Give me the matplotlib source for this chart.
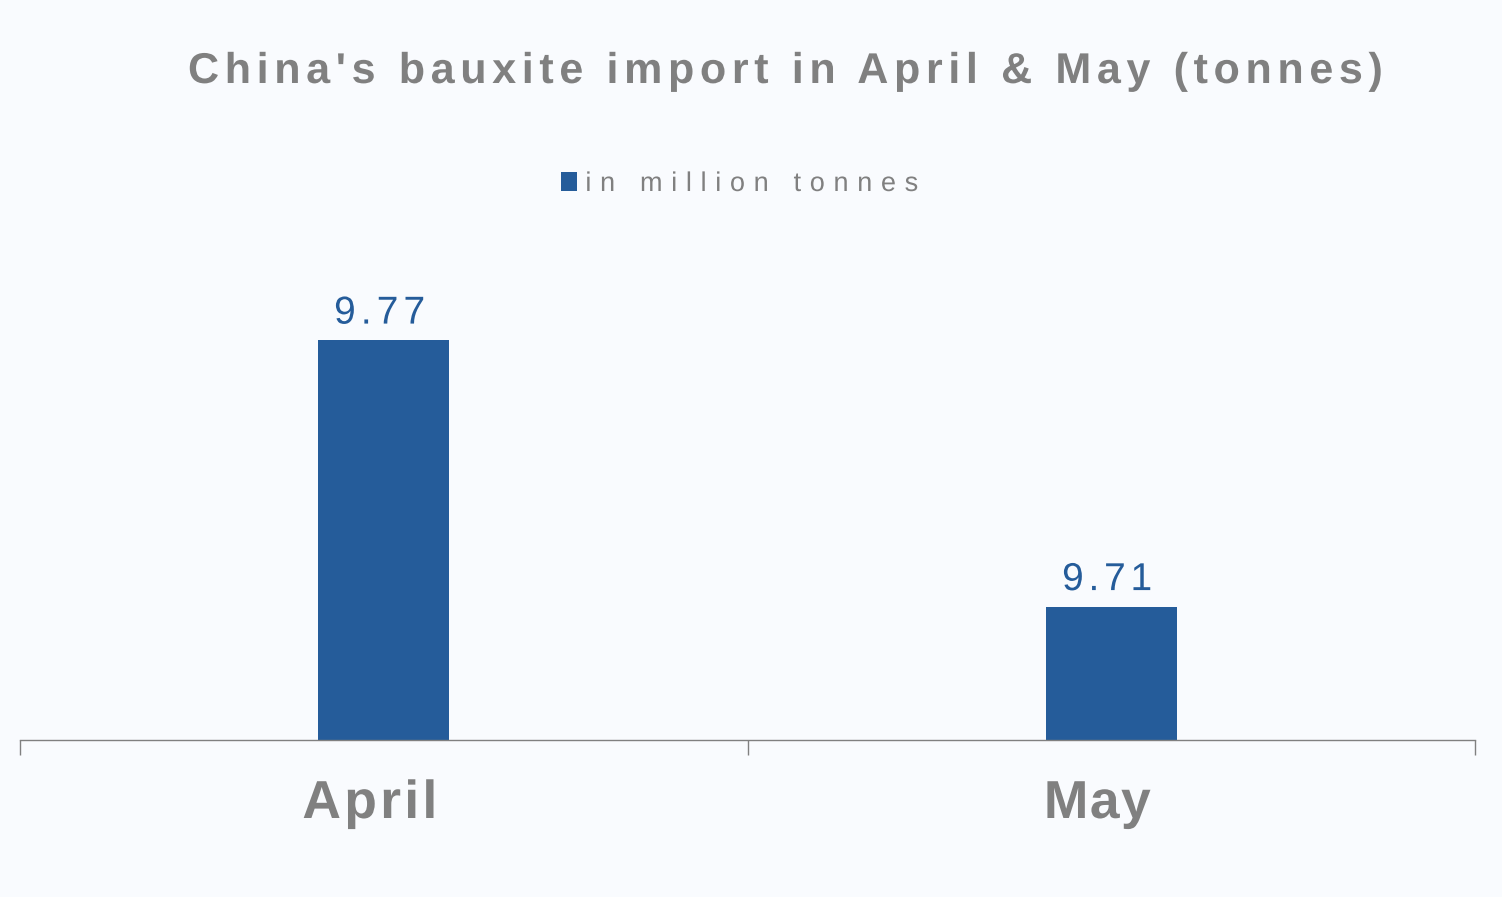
import matplotlib
matplotlib.use("Agg")
import numpy as np
import matplotlib.pyplot as plt
from matplotlib.patheffects import AbstractPathEffect
from matplotlib.path import Path
from matplotlib.transforms import blended_transform_factory

categories = ["April", "May"]
values = [9.77, 9.71]
value_labels = ["9.77", "9.71"]
series_name = "in million tonnes"
title = "China's bauxite import in April & May (tonnes)"

BG = "#F9FBFE"
BAR = "#255C9A"
GRAY = "#808080"
W, H = 1502, 897

plt.rcParams["font.family"] = ["Liberation Sans", "DejaVu Sans"]


class Tracking(AbstractPathEffect):
    """Letter spacing: adds a constant gap (display px) after every character."""

    def __init__(self, s, gap_px, origin="center"):
        super().__init__()
        self.s = s
        self.gap = gap_px
        self.origin = origin

    def draw_path(self, renderer, gc, tpath, affine, rgbFace=None):
        verts = np.array(tpath.vertices, dtype=float).copy()
        codes = tpath.codes
        if codes is None or len(verts) == 0:
            renderer.draw_path(gc, tpath, affine, rgbFace)
            return
        starts = list(np.where(codes == Path.MOVETO)[0])
        ends = starts[1:] + [len(verts)]
        # group consecutive contours into glyphs
        groups = []
        for s, e in zip(starts, ends):
            m = codes[s:e] != Path.CLOSEPOLY
            xv = verts[s:e][m, 0]
            if len(xv) == 0:
                continue
            a0, a1 = xv.min(), xv.max()
            c = (a0 + a1) / 2
            if groups and groups[-1][1] <= c <= groups[-1][2]:
                g = groups[-1]
                g[0].append((s, e))
                g[1] = min(g[1], a0)
                g[2] = max(g[2], a1)
            else:
                groups.append([[(s, e)], a0, a1])
        ranks = [i for i, ch in enumerate(self.s) if not ch.isspace()]
        n = len(self.s)
        sx = affine.get_matrix()[0, 0]
        unit = self.gap / sx if sx else 0.0
        if len(ranks) != len(groups):
            ranks = list(range(len(groups)))
            n = len(groups)
        ref = (n - 1) / 2 if self.origin == "center" else 0.0
        for g, r in zip(groups, ranks):
            for s, e in g[0]:
                verts[s:e, 0] += unit * (r - ref)
        renderer.draw_path(gc, Path(verts, codes), affine, rgbFace)


fig = plt.figure(figsize=(W / 100, H / 100), dpi=100, facecolor=BG)
ax = fig.add_axes([20 / W, 1 - 740 / H, 1455 / W, 533 / H])
ax.set_facecolor(BG)

x = list(range(len(categories)))
bars = ax.bar(x, values, width=0.18, color=BAR, label=series_name, zorder=2)
ax.set_xlim(-0.5, len(categories) - 0.5)
ax.set_ylim(9.68, 9.80)

for s in ["top", "left", "right"]:
    ax.spines[s].set_visible(False)
ax.spines["bottom"].set_color(GRAY)
ax.spines["bottom"].set_linewidth(1.0)
ax.set_yticks([])
ax.set_xticks(x)
ax.set_xticklabels([])
ax.tick_params(axis="x", which="major", length=0)
ax.set_xticks([i - 0.5 for i in range(len(categories) + 1)], minor=True)
ax.tick_params(axis="x", which="minor", length=10.8, width=1.0, color=GRAY, direction="out")

fig.canvas.draw()
renderer = fig.canvas.get_renderer()


def track(t, target_w, origin="center"):
    fig.canvas.draw()
    bb = t.get_window_extent(renderer)
    s = t.get_text()
    gap = max((target_w - bb.width) / max(len(s) - 1, 1), 0.0)
    t.set_path_effects([Tracking(s, gap, origin)])


def px(xp, yp):
    return xp / W, 1 - yp / H


# title
tt = fig.text(*px(784, 83), title, ha="center", va="baseline", fontsize=31,
              fontweight="bold", color=GRAY)
track(tt, 1192)

# legend
leg = ax.legend(loc="center left", bbox_to_anchor=px(561, 184), bbox_transform=fig.transFigure,
                frameon=False, handlelength=0.6, handleheight=0.65, handletextpad=0.3,
                borderpad=0, borderaxespad=0, fontsize=19.5, labelcolor=GRAY)
track(leg.get_texts()[0], 333, origin="left")

# value labels
val_w = [91, 90]
for i, b in enumerate(bars):
    xc = b.get_x() + b.get_width() / 2
    t = ax.annotate(value_labels[i], (xc, values[i]), xytext=(-3, 12), textcoords="offset points",
                    ha="center", va="baseline", fontsize=28, color=BAR)
    track(t, val_w[i])

# category labels
cat_w = [135, 107]
trans = blended_transform_factory(ax.transData, fig.transFigure)
for i, c in enumerate(categories):
    t = ax.annotate(c, (x[i], 1 - 818 / H), xycoords=trans, xytext=(-10, 0),
                    textcoords="offset points", ha="center", va="baseline",
                    fontsize=38.5, fontweight="bold", color=GRAY)
    track(t, cat_w[i])

fig.savefig("out.png", dpi=100, facecolor=BG)
